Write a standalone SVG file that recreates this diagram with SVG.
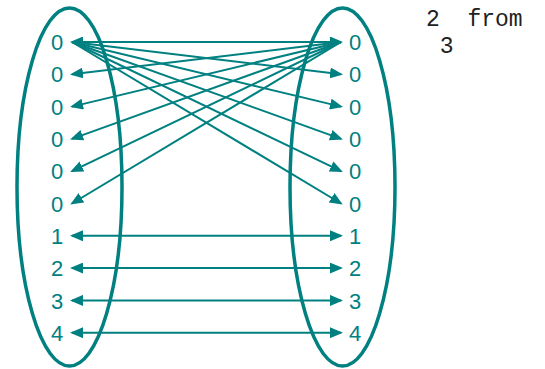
<svg xmlns="http://www.w3.org/2000/svg" width="545" height="369" viewBox="0 0 545 369">
<style>
.set{fill:none;stroke:#008080;stroke-width:3.5}
.lbl{font-family:"Liberation Sans",Arial,sans-serif;font-size:22px;fill:#008080;text-anchor:middle}
.ln{stroke:#008080;stroke-width:2;fill:none}
.note{font-family:"Liberation Mono","Courier New",monospace;font-size:23px;fill:#222;white-space:pre}
</style>
<defs>
<marker id="ah" viewBox="0 0 13 11" refX="11" refY="5.5" markerWidth="13" markerHeight="11" markerUnits="userSpaceOnUse" orient="auto-start-reverse">
<path d="M0,0 L13,5.5 L0,11 z" fill="#008080"/>
</marker>
</defs>
<g id="left-set">
<ellipse class="set" cx="69.5" cy="187" rx="52.5" ry="179"/>
<text class="lbl" x="57" y="50">0</text>
<text class="lbl" x="57" y="82">0</text>
<text class="lbl" x="57" y="114.5">0</text>
<text class="lbl" x="57" y="147">0</text>
<text class="lbl" x="57" y="179">0</text>
<text class="lbl" x="57" y="211.5">0</text>
<text class="lbl" x="57" y="244">1</text>
<text class="lbl" x="57" y="276">2</text>
<text class="lbl" x="57" y="308.5">3</text>
<text class="lbl" x="57" y="341">4</text>
</g>
<g id="right-set">
<ellipse class="set" cx="342.5" cy="187" rx="52.5" ry="179"/>
<text class="lbl" x="355" y="50">0</text>
<text class="lbl" x="355" y="82">0</text>
<text class="lbl" x="355" y="114.5">0</text>
<text class="lbl" x="355" y="147">0</text>
<text class="lbl" x="355" y="179">0</text>
<text class="lbl" x="355" y="211.5">0</text>
<text class="lbl" x="355" y="244">1</text>
<text class="lbl" x="355" y="276">2</text>
<text class="lbl" x="355" y="308.5">3</text>
<text class="lbl" x="355" y="341">4</text>
</g>
<g id="connectors">
<line class="ln" x1="72" y1="42" x2="341" y2="42" marker-start="url(#ah)" marker-end="url(#ah)"/>
<line class="ln" x1="72" y1="42" x2="341" y2="74.3" marker-end="url(#ah)"/>
<line class="ln" x1="72" y1="42" x2="341" y2="106.6" marker-end="url(#ah)"/>
<line class="ln" x1="72" y1="42" x2="341" y2="138.9" marker-end="url(#ah)"/>
<line class="ln" x1="72" y1="42" x2="341" y2="171.2" marker-end="url(#ah)"/>
<line class="ln" x1="72" y1="42" x2="341" y2="203.5" marker-end="url(#ah)"/>
<line class="ln" x1="341" y1="42" x2="72" y2="74.3" marker-end="url(#ah)"/>
<line class="ln" x1="341" y1="42" x2="72" y2="106.6" marker-end="url(#ah)"/>
<line class="ln" x1="341" y1="42" x2="72" y2="138.9" marker-end="url(#ah)"/>
<line class="ln" x1="341" y1="42" x2="72" y2="171.2" marker-end="url(#ah)"/>
<line class="ln" x1="341" y1="42" x2="72" y2="203.5" marker-end="url(#ah)"/>
<line class="ln" x1="72" y1="235.8" x2="341" y2="235.8" marker-start="url(#ah)" marker-end="url(#ah)"/>
<line class="ln" x1="72" y1="268.1" x2="341" y2="268.1" marker-start="url(#ah)" marker-end="url(#ah)"/>
<line class="ln" x1="72" y1="300.4" x2="341" y2="300.4" marker-start="url(#ah)" marker-end="url(#ah)"/>
<line class="ln" x1="72" y1="332.7" x2="341" y2="332.7" marker-start="url(#ah)" marker-end="url(#ah)"/>
</g>
<g id="note">
<text class="note" x="426" y="26" xml:space="preserve">2  from</text>
<text class="note" x="426" y="53" xml:space="preserve"> 3</text>
</g>
</svg>
